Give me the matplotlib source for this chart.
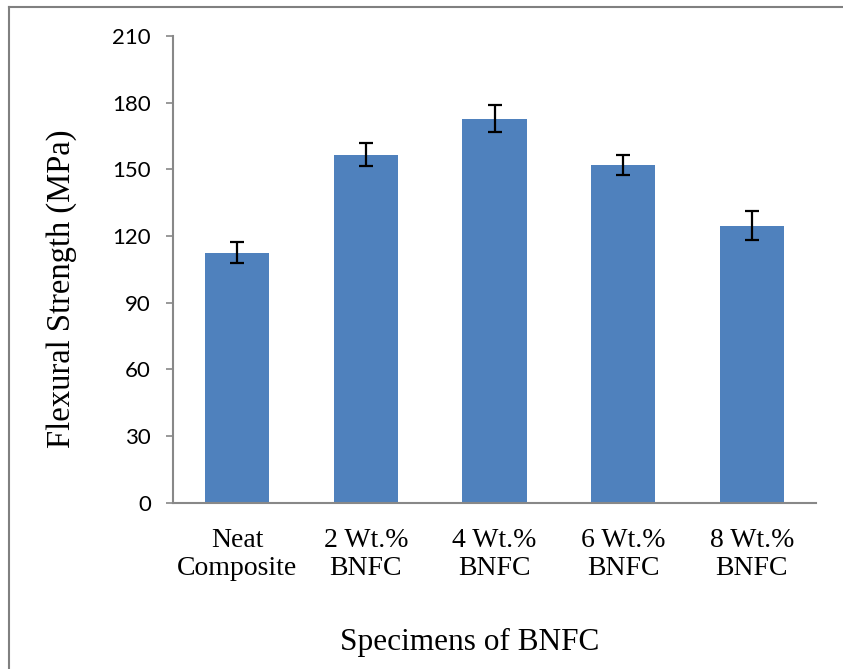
import matplotlib
matplotlib.use("Agg")
import matplotlib.pyplot as plt
from matplotlib.lines import Line2D

categories = ["Neat\nComposite", "2 Wt.%\nBNFC", "4 Wt.%\nBNFC", "6 Wt.%\nBNFC", "8 Wt.%\nBNFC"]
strength = [112.5, 156.6, 172.8, 152.0, 124.6]
errors = [4.8, 5.2, 6.2, 4.6, 6.5]
yticks = [0, 30, 60, 90, 120, 150, 180, 210]

fig = plt.figure(figsize=(8.43, 6.69), dpi=100)
ax = fig.add_axes([173/843, 1 - 502.7/669, (816-173)/843, (502.7-36)/669])

x = list(range(len(categories)))
ax.bar(x, strength, width=0.5, color="#4F81BD", zorder=2)
ax.errorbar(x, strength, yerr=errors, fmt="none", ecolor="black",
            elinewidth=1.6, capsize=5, capthick=1.6, zorder=3)

ax.set_xlim(-0.5, len(categories) - 0.5)
ax.set_ylim(0, 210)
ax.set_yticks(yticks)
ax.set_yticklabels([str(v) for v in yticks], fontfamily="Lato", fontsize=16)
ax.set_xticks(x)
ax.set_xticklabels(categories, fontfamily="Liberation Serif", fontsize=20,
                   linespacing=1.15)
ax.tick_params(axis="x", length=0, pad=18)
ax.tick_params(axis="y", length=5, width=1.2, color="#888888", pad=11)

for s in ["top", "right"]:
    ax.spines[s].set_visible(False)
for s in ["left", "bottom"]:
    ax.spines[s].set_color("#888888")
    ax.spines[s].set_linewidth(1.5)

fig.text(62/843, 1 - 288.5/669, "Flexural Strength (MPa)", rotation=90,
         ha="center", va="center", fontfamily="Liberation Serif", fontsize=23.5)
fig.text(470/843, 1 - 642/669, "Specimens of BNFC", ha="center", va="center",
         fontfamily="Liberation Serif", fontsize=22.5)

# partial border (left and top visible)
fig.add_artist(Line2D([8.5/843, 8.5/843], [0, 1 - 6.5/669], transform=fig.transFigure,
                      color="#808080", linewidth=1.5))
fig.add_artist(Line2D([8.5/843, 1], [1 - 6.5/669, 1 - 6.5/669], transform=fig.transFigure,
                      color="#808080", linewidth=1.5))

fig.savefig("out.png", dpi=100)
